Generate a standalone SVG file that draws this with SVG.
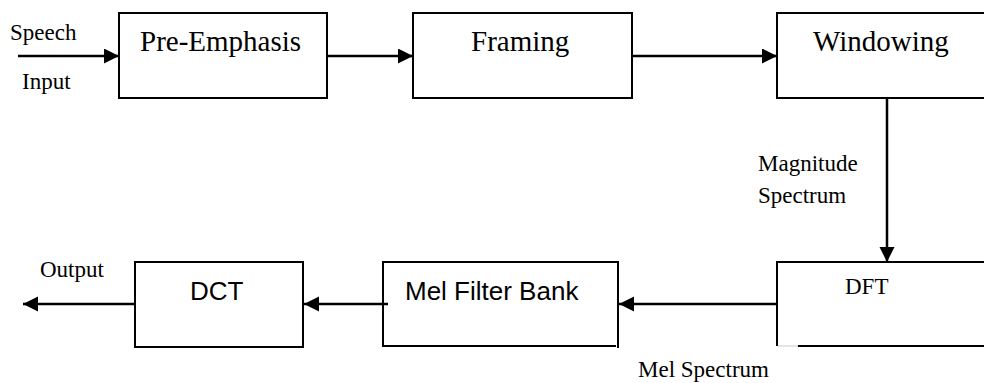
<svg xmlns="http://www.w3.org/2000/svg" width="984" height="383" viewBox="0 0 984 383">
<style>
.box{fill:none;stroke:#000;stroke-width:2}
.serif{font-family:"Liberation Serif","Times New Roman",serif;fill:#000}
.big{font-size:29px}
.small{font-size:23px}
.sans{font-family:"Liberation Sans",Arial,sans-serif;font-size:26px;fill:#000}
.conn{stroke:#000;stroke-width:2.5;fill:none;marker-end:url(#arr)}
</style>
<defs>
<marker id="arr" markerUnits="userSpaceOnUse" markerWidth="16" markerHeight="16" refX="15" refY="7.5" orient="auto">
<path d="M0,0 L15,7.5 L0,15 z" fill="#000"/>
</marker>
</defs>
<rect width="984" height="383" fill="#fff"/>
<g id="preemphasis">
<rect class="box" x="119" y="13" width="208" height="85"/>
<text class="serif big" x="140" y="51">Pre-Emphasis</text>
</g>
<g id="framing">
<rect class="box" x="413" y="13" width="219" height="85"/>
<text class="serif big" x="471" y="51">Framing</text>
</g>
<g id="windowing">
<path class="box" d="M985,13 H777 V98 H985"/>
<text class="serif big" x="813" y="51">Windowing</text>
</g>
<g id="dft">
<path class="box" d="M985,262 H777 V346"/>
<path class="box" d="M798,346 H985"/>
<path d="M778,346 H798" stroke="#ddd" stroke-width="1.5"/>
<text class="serif small" x="845" y="294">DFT</text>
</g>
<g id="melfilterbank">
<path class="box" d="M618,262 H383 V346 H616 M618,261 V348"/>
<text class="sans" x="405" y="300">Mel Filter Bank</text>
</g>
<g id="dct">
<rect class="box" x="135" y="262" width="168" height="85"/>
<text class="sans" x="190" y="300">DCT</text>
</g>
<g id="labels">
<text class="serif small" x="10" y="40">Speech</text>
<text class="serif small" x="22" y="89">Input</text>
<text class="serif small" x="758" y="171">Magnitude</text>
<text class="serif small" x="758" y="203">Spectrum</text>
<text class="serif small" x="40" y="277">Output</text>
<text class="serif small" x="638" y="377">Mel Spectrum</text>
</g>
<g id="connectors">
<line class="conn" x1="18" y1="56" x2="119" y2="56"/>
<line class="conn" x1="327" y1="56" x2="413" y2="56"/>
<line class="conn" x1="632" y1="56" x2="777" y2="56"/>
<line class="conn" x1="887" y1="98" x2="887" y2="262"/>
<line class="conn" x1="777" y1="304" x2="619" y2="304"/>
<line class="conn" x1="388" y1="304" x2="304" y2="304"/>
<line class="conn" x1="135" y1="304" x2="23" y2="304"/>
</g>
</svg>
